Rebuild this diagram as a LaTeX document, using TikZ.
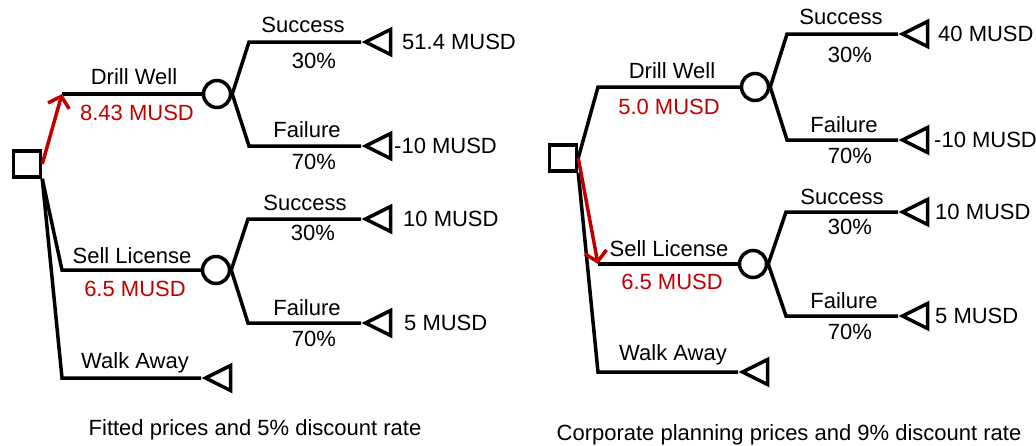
\documentclass[tikz,border=0pt]{standalone}
\usepackage{fontspec}
\setmainfont{Liberation Sans}
\usepackage{xcolor}
\usetikzlibrary{arrows.meta,shapes.geometric}
\definecolor{decred}{RGB}{192,0,0}

\begin{document}
\begin{tikzpicture}[x=1pt, y=-1pt,
  font=\fontsize{22}{26}\selectfont,
  decision/.style={draw, rectangle, minimum width=27pt, minimum height=26pt, inner sep=0pt, line width=3.5pt},
  chance/.style={draw, circle, minimum size=27pt, inner sep=0pt, line width=3.5pt},
  payoff/.style={draw, isosceles triangle, isosceles triangle stretches, shape border rotate=180,
                 minimum width=25pt, minimum height=25pt, inner sep=0pt, line width=3.5pt, anchor=apex},
  branch/.style={line width=3.5pt},
  best/.style={line width=3.5pt, draw=decred, -{Straight Barb[length=10pt, width=22pt]}},
  lbl/.style={inner sep=0pt, text height=15.5pt, text depth=0pt},
  ev/.style={lbl, text=decred},
  outcome/.style={lbl, anchor=west}
]
  \useasboundingbox (0,0) rectangle (1036,445);

  % Left tree: fitted prices
  \node[decision] (sq1) at (27,164) {};
  \coordinate (dw1) at (62,94);
  \coordinate (sl1) at (62,270);
  \coordinate (wa1) at (62,378);
  \node[chance] (cd1) at (217,94) {};
  \node[chance] (cs1) at (216,270) {};
  \coordinate (cd1s) at (249,42);
  \coordinate (cd1f) at (249,146);
  \coordinate (cs1s) at (248,219);
  \coordinate (cs1f) at (248,323);
  \node[payoff] (td1s) at (361,42) {};
  \node[payoff] (td1f) at (361,146) {};
  \node[payoff] (ts1s) at (361,219) {};
  \node[payoff] (ts1f) at (361,323) {};
  \node[payoff] (tw1) at (201,378) {};

  \draw[branch] (dw1) -- (cd1.west);
  \draw[branch] (sq1.south east) -- (sl1) -- (cs1.west);
  \draw[branch] (sq1.south east) -- (wa1) -- (tw1.apex);
  \draw[branch] (cd1.east) -- (cd1s) -- (td1s.apex);
  \draw[branch] (cd1.east) -- (cd1f) -- (td1f.apex);
  \draw[branch] (cs1.east) -- (cs1s) -- (ts1s.apex);
  \draw[branch] (cs1.east) -- (cs1f) -- (ts1f.apex);
  \draw[best] (sq1.east) -- (dw1);

  \node[lbl] (dwl1) at (134,77) {Drill Well};
  \node[ev] (dwv1) at (137,113) {8.43 MUSD};
  \node[lbl] (sll1) at (132,256) {Sell License};
  \node[ev] (slv1) at (135,289) {6.5 MUSD};
  \node[lbl] (wal1) at (135,361) {Walk Away};
  \node[lbl] (ds1) at (303,25) {Success};
  \node[lbl] (dp1) at (314,61) {30\%};
  \node[lbl] (df1) at (307,130) {Failure};
  \node[lbl] (dq1) at (314,162) {70\%};
  \node[lbl] (ss1) at (305,203) {Success};
  \node[lbl] (sp1) at (313,233) {30\%};
  \node[lbl] (sf1) at (307,308) {Failure};
  \node[lbl] (sq1p) at (314,339) {70\%};
  \node[outcome] (od1s) at (402,42) {51.4 MUSD};
  \node[outcome] (od1f) at (394,146) {-10 MUSD};
  \node[outcome] (os1s) at (403,219) {10 MUSD};
  \node[outcome] (os1f) at (404,323) {5 MUSD};
  \node[lbl] (cap1) at (255,428) {Fitted prices and 5\% discount rate};

  % Right tree: corporate planning prices
  \node[decision] (sq2) at (563,158) {};
  \coordinate (dw2) at (598,87);
  \coordinate (sl2) at (598,264);
  \coordinate (wa2) at (598,372);
  \node[chance] (cd2) at (755,87) {};
  \node[chance] (cs2) at (753,264) {};
  \coordinate (cd2s) at (787,34);
  \coordinate (cd2f) at (787,140);
  \coordinate (cs2s) at (786,212);
  \coordinate (cs2f) at (786,316);
  \node[payoff] (td2s) at (898,34) {};
  \node[payoff] (td2f) at (898,140) {};
  \node[payoff] (ts2s) at (898,212) {};
  \node[payoff] (ts2f) at (898,316) {};
  \node[payoff] (tw2) at (738,372) {};

  \draw[branch] (sq2.east) -- (dw2) -- (cd2.west);
  \draw[branch] (sl2) -- (cs2.west);
  \draw[branch] (sq2.south east) -- (wa2) -- (tw2.apex);
  \draw[branch] (cd2.east) -- (cd2s) -- (td2s.apex);
  \draw[branch] (cd2.east) -- (cd2f) -- (td2f.apex);
  \draw[branch] (cs2.east) -- (cs2s) -- (ts2s.apex);
  \draw[branch] (cs2.east) -- (cs2f) -- (ts2f.apex);
  \draw[best] (sq2.east) -- (sl2);

  \node[lbl] (dwl2) at (672,71) {Drill Well};
  \node[ev] (dwv2) at (669,107) {5.0 MUSD};
  \node[lbl] (sll2) at (669,249) {Sell License};
  \node[ev] (slv2) at (672,282) {6.5 MUSD};
  \node[lbl] (wal2) at (673,353) {Walk Away};
  \node[lbl] (ds2) at (841,17) {Success};
  \node[lbl] (dp2) at (850,55) {30\%};
  \node[lbl] (df2) at (844,125) {Failure};
  \node[lbl] (dq2) at (850,156) {70\%};
  \node[lbl] (ss2) at (842,197) {Success};
  \node[lbl] (sp2) at (850,227) {30\%};
  \node[lbl] (sf2) at (844,301) {Failure};
  \node[lbl] (sq2p) at (850,332) {70\%};
  \node[outcome] (od2s) at (938,34) {40 MUSD};
  \node[outcome] (od2f) at (934,140) {-10 MUSD};
  \node[outcome] (os2s) at (935,212) {10 MUSD};
  \node[outcome] (os2f) at (935,316) {5 MUSD};
  \node[lbl] (cap2) at (789,433) {Corporate planning prices and 9\% discount rate};
\end{tikzpicture}
\end{document}
